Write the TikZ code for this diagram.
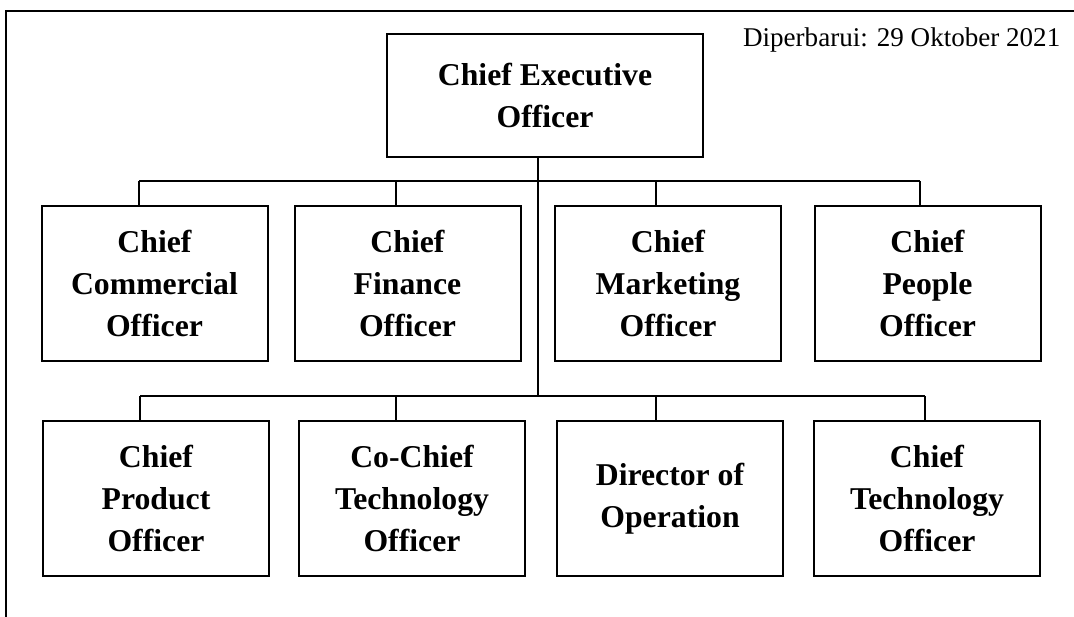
\documentclass[tikz,border=0pt]{standalone}
\usepackage{fontspec}
\setmainfont{Liberation Serif}

\begin{document}
\begin{tikzpicture}[x=0.75pt,y=-0.75pt,
        post/.style={draw,line width=1.5pt,minimum width=169.5pt,minimum height=116.25pt,inner sep=0pt,outer sep=0pt,align=center,font=\fontsize{23.8}{31.3}\selectfont\bfseries},
        link/.style={line width=1pt}]
        \useasboundingbox(0,0)rectangle(1074,617);
        \draw[line width=2pt](6,617)--(6,11)--(1074,11);
        \node[anchor=base east,font=\fontsize{20.3}{24}\selectfont](date)at(1065,46.7){Diperbarui: 29 Oktober 2021};

        \node[post,minimum width=237pt,minimum height=92.25pt](ceo)at(545,95.5){Chief Executive\\Officer};

        \node[post](cco)at(154.5,283.5){Chief\\Commercial\\Officer};
        \node[post](cfo)at(407.5,283.5){Chief\\Finance\\Officer};
        \node[post](cmo)at(668,283.5){Chief\\Marketing\\Officer};
        \node[post](cpo)at(927.5,283.5){Chief\\People\\Officer};

        \node[post](cpd)at(156,498.5){Chief\\Product\\Officer};
        \node[post](cct)at(412,498.5){Co-Chief\\Technology\\Officer};
        \node[post](cdo)at(670,498.5){Director of\\Operation};
        \node[post](cto)at(927,498.5){Chief\\Technology\\Officer};

        \coordinate(trunk)at(538,0);
        \coordinate(bar1)at(139,181);
        \coordinate(bar1end)at(920,181);
        \coordinate(bar2)at(140,396);
        \coordinate(bar2end)at(925,396);

        \draw[link](ceo.south-|trunk)--(bar2-|trunk);
        \draw[link](bar1)--(bar1end);
        \draw[link](bar2)--(bar2end);
        \foreach \n/\x in {cco/139,cfo/396,cmo/656,cpo/920}
            \draw[link](\x,181)|-(\n.north);
        \foreach \n/\x in {cpd/140,cct/396,cdo/656,cto/925}
            \draw[link](\x,396)|-(\n.north);
    \end{tikzpicture}
\end{document}
